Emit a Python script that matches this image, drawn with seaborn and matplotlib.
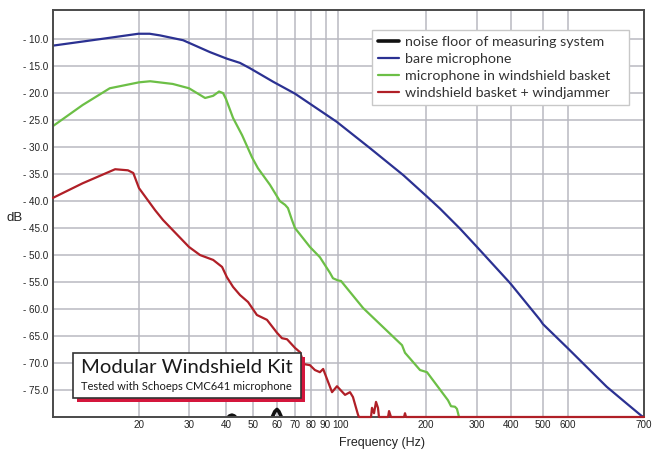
import numpy as np
import matplotlib
matplotlib.use("Agg")
import matplotlib.pyplot as plt
import matplotlib.patches as patches
import matplotlib.transforms as mtransforms
from matplotlib.ticker import FixedLocator, NullLocator, FixedFormatter
import seaborn as sns

# ---- data (Hz, dB) ----
noise_hz = [10, 39.5, 40.5, 41.2, 42, 42.8, 43.6, 44.5, 56.5, 57.8, 59, 60, 61, 62.4, 63.5, 700]
noise_db = [-81, -81, -80.2, -79.8, -79.65, -79.8, -80.2, -81, -81, -80.1, -79, -78.6, -79, -80.1, -81, -81]

bare_hz = [10, 14.6, 19.9, 21.8, 23.7, 28.6, 35.3, 40.2, 44.9, 48.8,
           58.3, 70, 98.8, 128.7, 167.3, 201.9, 223.6, 262, 300, 397,
           489.7, 500, 600, 649, 675.8, 696.6, 700]
bare_db = [-11.2, -10.0, -9.0, -9.0, -9.3, -10.2, -12.4, -13.6, -14.4, -15.4,
           -17.9, -20.1, -25.3, -30.2, -35.2, -39.2, -41.4, -45.1, -48.5, -55.2,
           -62.0, -62.8, -67.3, -74.4, -77.5, -79.8, -80]

basket_hz = [10, 12.7, 15.8, 20, 21.9, 26.3, 30, 34.0, 36.2, 37.9,
             39.1, 40, 42.4, 45.7, 49.6, 51.9, 56.9, 61.5, 64.3, 65.9,
             68.2, 70, 79.3, 85.8, 93.2, 95.7, 100, 102.4, 121.8, 165.6,
             169.5, 190.8, 201.6, 238.2, 244, 251.8, 255.8, 260]
basket_db = [-26.1, -22.2, -19.1, -18.0, -17.8, -18.3, -19.1, -20.9, -20.5, -19.7,
             -20.0, -21.1, -24.6, -27.8, -31.9, -33.9, -37.0, -40.0, -40.7, -41.3,
             -43.5, -45.0, -48.5, -50.4, -53.3, -54.3, -54.7, -54.8, -59.8, -66.7,
             -68.1, -71.3, -71.7, -76.9, -78.0, -78.1, -78.5, -80]

jammer_hz = [10, 12.7, 16.5, 18.3, 19.1, 20, 22.8, 24.3, 26.1, 30,
             32.7, 36.2, 38.8, 40.3, 42.4, 44.9, 48.0, 51.5, 55.6, 60,
             62.6, 65.4, 70, 73.0, 75.5, 79.3, 82.5, 85.8, 88.0, 94.9,
             99.1, 105.7, 109.9, 112.5, 117.1, 118, 129.7, 130.7, 132.8, 134.9,
             137.0, 138.1, 148.3, 149.5, 151.8, 168.2, 169.5, 170.9, 700]
jammer_db = [-39.4, -36.7, -34.1, -34.3, -34.8, -37.6, -41.7, -43.5, -45.2, -48.5,
             -50.0, -50.9, -52.2, -54.1, -55.9, -57.4, -58.7, -61.1, -62.0, -64.4,
             -65.4, -65.6, -67.2, -68.0, -70.2, -70.4, -71.3, -71.7, -71.1, -75.4,
             -74.3, -75.9, -75.4, -76.3, -79.6, -80, -80, -78.3, -79.3, -77.2,
             -78.3, -80, -80, -78.9, -80, -80, -79.3, -80, -80]

series_names = ["noise floor of measuring system", "bare microphone",
                "microphone in windshield basket", "windshield basket + windjammer"]

x_ticks = [20, 30, 40, 50, 60, 70, 80, 90, 100, 200, 300, 400, 500, 600, 700]
x_labels = [str(t) for t in x_ticks]
y_ticks = list(range(-75, -5, 5))
y_labels = ["- %.1f" % abs(t) for t in y_ticks]

# the original frequency axis is only roughly logarithmic (and 600-700 is stretched),
# so use a piecewise log scale through the grid lines of the reference
scale_hz = [10, 20, 30, 40, 50, 60, 70, 80, 90, 100, 200, 300, 400, 500, 600, 700]
scale_pos = [0, 86, 136, 173, 200, 224, 242, 258, 273, 285, 373, 424, 458, 490, 515, 591]
lg = np.log10(scale_hz)
lg_ext = np.concatenate([[lg[0] - 8], lg, [lg[-1] + 8]])
s0 = (scale_pos[1] - scale_pos[0]) / (lg[1] - lg[0])
s1 = (scale_pos[-1] - scale_pos[-2]) / (lg[-1] - lg[-2])
pos_ext = np.concatenate([[scale_pos[0] - 8 * s0], scale_pos, [scale_pos[-1] + 8 * s1]])


def fwd(f):
    f = np.clip(np.asarray(f, dtype=float), 1e-12, None)
    return np.interp(np.log10(f), lg_ext, pos_ext)


def inv(p):
    return 10 ** np.interp(np.asarray(p, dtype=float), pos_ext, lg_ext)


sns.set_theme(style="white")
plt.rcParams['font.family'] = ['Liberation Sans', 'DejaVu Sans']

fig = plt.figure(figsize=(6.53, 4.51), dpi=100)
ax = fig.add_axes([53 / 653, 1 - 417 / 451, 591 / 653, 407 / 451])

sns.lineplot(x=noise_hz, y=noise_db, color="#111111", linewidth=2.6, label=series_names[0], ax=ax, estimator=None)
sns.lineplot(x=bare_hz, y=bare_db, color="#2b3192", linewidth=1.6, label=series_names[1], ax=ax, estimator=None)
sns.lineplot(x=basket_hz, y=basket_db, color="#6cbf46", linewidth=1.6, label=series_names[2], ax=ax, estimator=None)
sns.lineplot(x=jammer_hz, y=jammer_db, color="#b01f27", linewidth=1.6, label=series_names[3], ax=ax, estimator=None)
red = ax.lines[-1]
red.set_clip_on(False)
red.set_zorder(4)

ax.set_xscale('function', functions=(fwd, inv))
ax.set_xlim(10, 700)
ax.set_ylim(-80, -4.6)
ax.xaxis.set_major_locator(FixedLocator(x_ticks))
ax.xaxis.set_major_formatter(FixedFormatter(x_labels))
ax.xaxis.set_minor_locator(NullLocator())
ax.set_yticks(y_ticks)
ax.set_yticklabels(y_labels)
ax.tick_params(axis='both', length=0, labelsize=7.1, colors="#222222")
ax.tick_params(axis='y', pad=3.5)
ax.tick_params(axis='x', pad=2.5)
ax.grid(True, color="#b9b9c1", linewidth=1.1)
ax.set_axisbelow(True)
for s in ax.spines.values():
    s.set_color("#4a4a4a")
    s.set_linewidth(1.4)
ax.set_xlabel("")
ax.set_ylabel("")

# the "90" and "100" labels sit slightly apart in the reference
fig.canvas.draw()
for lab in ax.get_xticklabels():
    if lab.get_text() == "100":
        lab.set_transform(lab.get_transform() + mtransforms.ScaledTranslation(2.5 / 100, 0, fig.dpi_scale_trans))
    elif lab.get_text() == "90":
        lab.set_transform(lab.get_transform() + mtransforms.ScaledTranslation(-1 / 100, 0, fig.dpi_scale_trans))

fig.text(382 / 653, 1 - 443 / 451, "Frequency (Hz)", ha="center", va="center", fontsize=9, color="#222222")
fig.text(15 / 653, 1 - 218 / 451, "dB", ha="center", va="center", fontsize=9.5, color="#222222")

leg = ax.legend(loc="upper left", bbox_to_anchor=(0.5398, 0.7496, 0.4349, 0.2015), mode="expand",
                frameon=True, fancybox=False, framealpha=1, edgecolor="#c8c8c8",
                prop={"family": "Lato", "size": 10.25}, handlelength=1.45, handletextpad=0.4,
                labelspacing=0.34, borderpad=0.45, borderaxespad=0)
leg.get_frame().set_linewidth(1.0)
for t in leg.get_texts():
    t.set_color("#333333")

# title box with red drop shadow
bx, by, bw, bh = 73 / 653, 1 - 398 / 451, 228 / 653, 45 / 451
shadow = patches.Rectangle((bx + 4 / 653, by - 4 / 451), bw, bh, transform=fig.transFigure,
                           facecolor="#d4163c", edgecolor="none", zorder=5)
box = patches.Rectangle((bx, by), bw, bh, transform=fig.transFigure,
                        facecolor="white", edgecolor="#333333", linewidth=1.2, zorder=6)
fig.patches.extend([shadow, box])
fig.text(81 / 653, 1 - 373 / 451, "Modular Windshield Kit", family="Lato", fontsize=14.6,
         color="#1a1a1a", ha="left", va="baseline", zorder=7)
fig.text(81 / 653, 1 - 390.5 / 451, "Tested with Schoeps CMC641 microphone", family="Lato", fontsize=8.05,
         color="#1a1a1a", ha="left", va="baseline", zorder=7)

fig.savefig("out.png", dpi=100)
